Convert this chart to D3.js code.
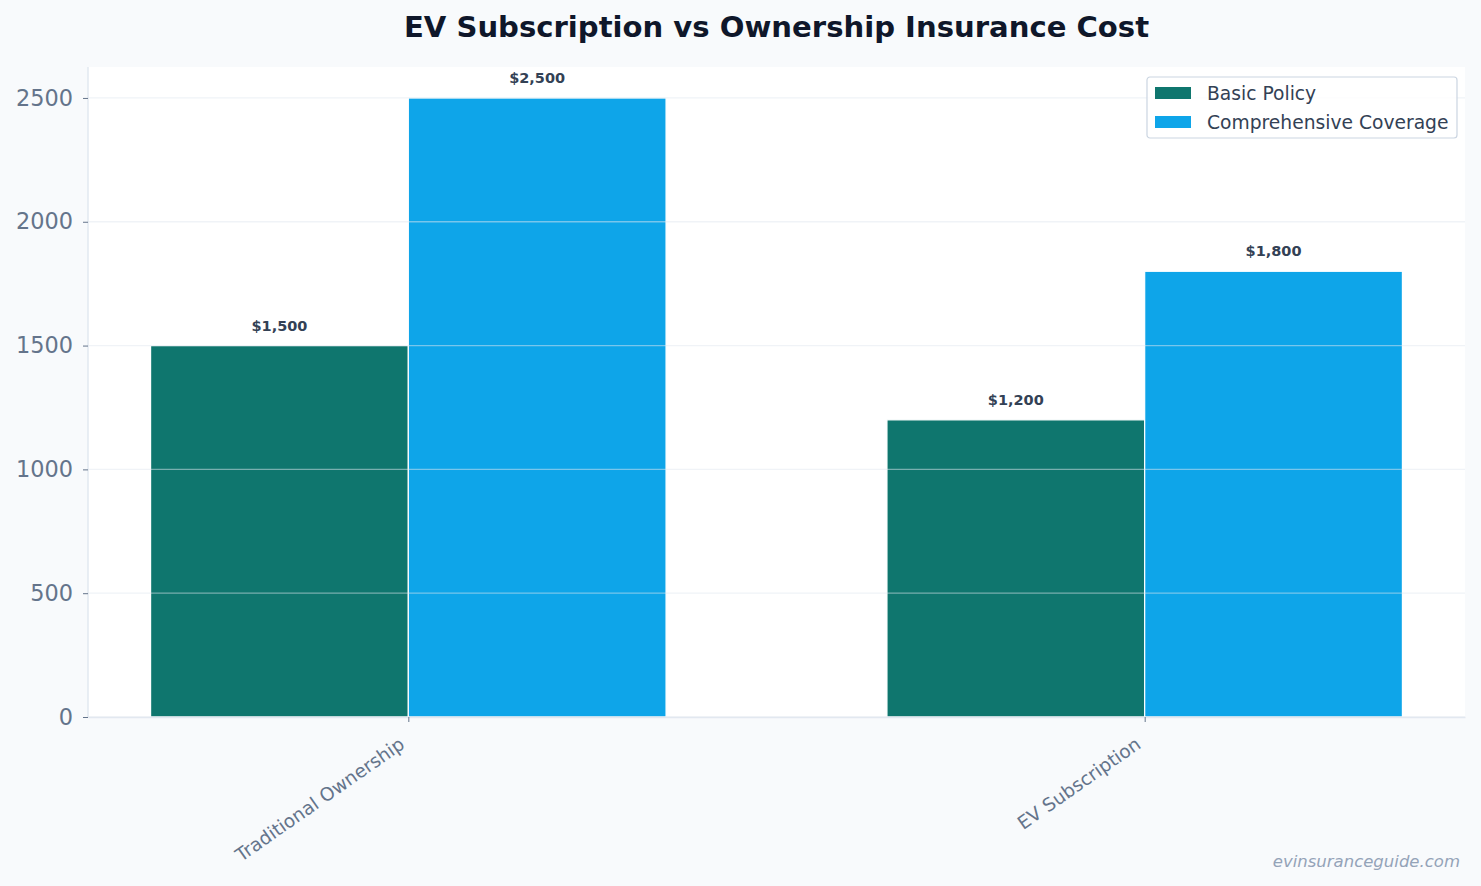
<!DOCTYPE html>
<html>
  <head>
    <title>EV Subscription vs Ownership Insurance Cost</title>
    <script src="https://d3js.org/d3.v7.min.js"></script>
    <style>
      body { margin: 0; background: #f8fafc; }
      svg { display: block; font-family: "DejaVu Sans", sans-serif; }
    </style>
  </head>

  <body>
    <svg width="1481" height="886"></svg>

    <script type="text/javascript">
      var categories = ["Traditional Ownership", "EV Subscription"];
      var seriesNames = ["Basic Policy", "Comprehensive Coverage"];
      var basicValues = [1500, 1200];
      var comprehensiveValues = [2500, 1800];
      var yTicks = [0, 500, 1000, 1500, 2000, 2500];
      var colors = ["#0f766e", "#0ea5e9"];

      var svg = d3.select("svg");
      var plotLeft = 88, plotRight = 1465, plotTop = 67, plotBottom = 717;
      var barWidth = 0.35;

      // numeric x like matplotlib: category i sits at i
      var x = d3.scaleLinear().domain([-0.435, 1.435]).range([plotLeft, plotRight]);
      var y = d3.scaleLinear().domain([0, 2625]).range([plotBottom, plotTop]);

      svg.append("rect")
        .attr("x", plotLeft).attr("y", plotTop)
        .attr("width", plotRight - plotLeft).attr("height", plotBottom - plotTop)
        .style("fill", "#ffffff");

      var series = [basicValues, comprehensiveValues];
      var bars = svg.append("g");
      series.forEach(function (vals, s) {
        var offset = (s === 0 ? -barWidth / 2 : barWidth / 2);
        vals.forEach(function (v, i) {
          var cx = i + offset;
          bars.append("rect")
            .attr("x", x(cx - barWidth / 2))
            .attr("y", y(v))
            .attr("width", x(cx + barWidth / 2) - x(cx - barWidth / 2))
            .attr("height", y(0) - y(v))
            .style("fill", colors[s])
            .style("stroke", "#ffffff")
            .style("stroke-width", 1.2);
          svg.append("text")
            .attr("x", x(cx))
            .attr("y", y(v) - 15)
            .attr("text-anchor", "middle")
            .style("font-size", "14.5px")
            .style("font-weight", "bold")
            .style("fill", "#334155")
            .text("$" + d3.format(",")(v));
        });
      });

      // grid on top of the bars, faint
      svg.append("g")
        .selectAll("line")
        .data(yTicks)
        .enter()
        .append("line")
        .attr("x1", plotLeft).attr("x2", plotRight)
        .attr("y1", function (d) { return y(d); })
        .attr("y2", function (d) { return y(d); })
        .style("stroke", "#e2e8f0")
        .style("stroke-opacity", 0.5)
        .style("stroke-width", 1.3);

      var yAxis = d3.axisLeft(y).tickValues(yTicks).tickFormat(d3.format("d"))
        .tickSize(5).tickPadding(10).tickSizeOuter(0);
      var gy = svg.append("g")
        .attr("transform", "translate(" + plotLeft + ",0)")
        .call(yAxis);
      gy.select(".domain").attr("d", "M0," + plotTop + "V" + plotBottom)
        .style("stroke", "#e2e8f0").style("stroke-width", 1.5);
      gy.selectAll(".tick line").style("stroke", "#64748b");
      gy.selectAll("text").style("font-size", "22.4px").style("fill", "#64748b")
        .style("font-family", "DejaVu Sans");

      var xAxis = d3.axisBottom(x).tickValues([0, 1])
        .tickFormat(function (d) { return categories[d]; })
        .tickSize(5).tickSizeOuter(0);
      var gx = svg.append("g")
        .attr("transform", "translate(0," + plotBottom + ")")
        .call(xAxis);
      gx.select(".domain").style("stroke", "#e2e8f0").style("stroke-width", 1.5);
      gx.selectAll(".tick line").style("stroke", "#64748b");
      gx.selectAll("text")
        .style("font-size", "18.5px").style("fill", "#64748b")
        .style("font-family", "DejaVu Sans")
        .attr("text-anchor", "end")
        .attr("dy", null)
        .attr("y", 0)
        .attr("transform", "translate(-3,30) rotate(-35)");

      svg.append("text")
        .attr("x", (plotLeft + plotRight) / 2)
        .attr("y", 37)
        .attr("text-anchor", "middle")
        .style("font-size", "29.1px")
        .style("font-weight", "bold")
        .style("fill", "#0f172a")
        .text("EV Subscription vs Ownership Insurance Cost");

      // legend
      var lg = svg.append("g").attr("transform", "translate(1147,77)");
      lg.append("rect")
        .attr("width", 310).attr("height", 61).attr("rx", 3)
        .style("fill", "#ffffff").style("fill-opacity", 0.8)
        .style("stroke", "#cbd5e1").style("stroke-width", 1.2);
      seriesNames.forEach(function (name, i) {
        lg.append("rect")
          .attr("x", 8).attr("y", 10 + i * 29)
          .attr("width", 36).attr("height", 12)
          .style("fill", colors[i]);
        lg.append("text")
          .attr("x", 60).attr("y", 16 + i * 29)
          .attr("dy", "0.35em")
          .style("font-size", "18.7px")
          .style("fill", "#334155")
          .text(name);
      });

      svg.append("text")
        .attr("x", 1460).attr("y", 867)
        .attr("text-anchor", "end")
        .style("font-size", "16.5px")
        .style("font-style", "italic")
        .style("fill", "#94a3b8")
        .text("evinsuranceguide.com");
    </script>
  </body>
</html>
